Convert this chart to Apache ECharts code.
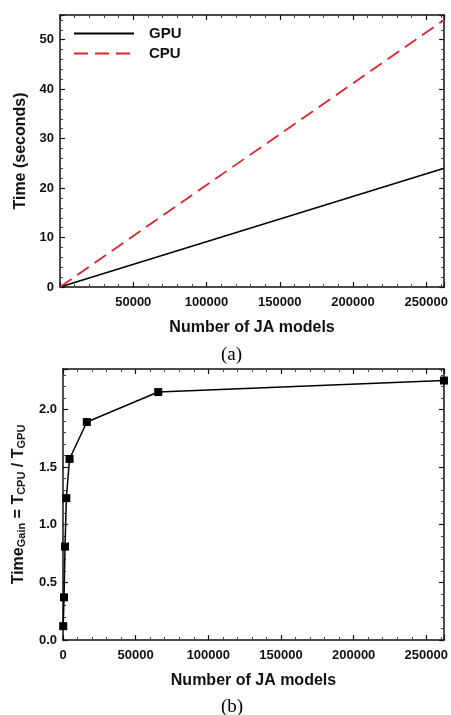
<!DOCTYPE html>
<html>
<head>
<meta charset="utf-8">
<script src="https://cdn.jsdelivr.net/npm/echarts@6/dist/echarts.min.js"></script>
<style>
  html, body { margin: 0; padding: 0; background: #fff; }
  #chart { width: 451px; height: 715px; }
</style>
</head>
<body>
<div id="chart"></div>
<script>
// (a) run time vs number of JA models
var modelsA = [0, 262144];
var gpuTime = [0, 24];
var cpuTime = [0, 54];

// (b) time gain = T_CPU / T_GPU
var modelsB = [150, 700, 1400, 2300, 4500, 16400, 65536, 262144];
var timeGain = [0.12, 0.37, 0.81, 1.23, 1.57, 1.89, 2.15, 2.25];

var FONT = 'Liberation Sans, Arial, sans-serif';
var axisColor = '#111';

function pairs(xs, ys){
	var out = [];
	for(var i = 0; i < xs.length; i++){
		out.push([xs[i], ys[i]]);
	}
	return out;
}

/* 带内刻度的坐标轴 */
function xAxisDef(grid, pos, showLabel, showZero){
	return {
		type: 'value', gridIndex: grid, position: pos,
		min: 0, max: 262144, interval: 50000,
		axisLine: { show: true, onZero: false, lineStyle: { color: axisColor, width: 1.5 } },
		axisTick: { show: true, inside: true, length: 5, lineStyle: { color: axisColor, width: 1.2 } },
		minorTick: { show: true, splitNumber: 5, length: 3, lineStyle: { color: '#444', width: 1 } },
		splitLine: { show: false },
		axisLabel: {
			show: showLabel, showMinLabel: showZero, showMaxLabel: false, margin: 9,
			formatter: function(v){ return String(v); },
			color: axisColor, fontFamily: FONT, fontWeight: 'bold', fontSize: 13
		},
		name: showLabel ? 'Number of JA models' : '',
		nameLocation: 'middle', nameGap: 33,
		nameTextStyle: { color: axisColor, fontFamily: FONT, fontWeight: 'bold', fontSize: 16 }
	};
}

function yAxisDef(grid, pos, showLabel, max, interval, fmt, name, gap){
	return {
		type: 'value', gridIndex: grid, position: pos,
		min: 0, max: max, interval: interval,
		axisLine: { show: true, onZero: false, lineStyle: { color: axisColor, width: 1.5 } },
		axisTick: { show: true, inside: true, length: 5, lineStyle: { color: axisColor, width: 1.2 } },
		minorTick: { show: true, splitNumber: 5, length: 3, lineStyle: { color: '#444', width: 1 } },
		splitLine: { show: false },
		axisLabel: {
			show: showLabel, showMaxLabel: false, margin: 6, formatter: fmt,
			color: axisColor, fontFamily: FONT, fontWeight: 'bold', fontSize: 13
		},
		name: name, nameLocation: 'middle', nameGap: gap,
		nameTextStyle: {
			color: axisColor, fontFamily: FONT, fontWeight: 'bold', fontSize: 16,
			rich: {
				a: { fontFamily: FONT, fontWeight: 'bold', fontSize: 16, lineHeight: 18, verticalAlign: 'bottom', color: axisColor },
				s: { fontFamily: FONT, fontWeight: 'bold', fontSize: 11, lineHeight: 7, verticalAlign: 'bottom', color: axisColor }
			}
		}
	};
}

var chart = echarts.init(document.getElementById('chart'));
var option = {
	backgroundColor: '#fff',
	animation: false,
	title: [
		{ text: '(a)', left: 216, top: 341, textStyle: { fontFamily: 'Liberation Serif, Times New Roman, serif', fontWeight: 'normal', fontSize: 19, color: '#000' } },
		{ text: '(b)', left: 216, top: 693, textStyle: { fontFamily: 'Liberation Serif, Times New Roman, serif', fontWeight: 'normal', fontSize: 19, color: '#000' } }
	],
	legend: {
		orient: 'vertical', left: 73, top: 26, padding: 0,
		itemWidth: 60, itemHeight: 14, itemGap: 5,
		data: ['GPU', 'CPU'],
		itemStyle: { opacity: 0 },
		textStyle: { fontFamily: FONT, fontWeight: 'bold', fontSize: 15, color: '#111', padding: [0, 0, 0, 10] }
	},
	grid: [
		{ left: 60, top: 15, width: 387, height: 272 },
		{ left: 63, top: 369, width: 387, height: 271 }
	],
	xAxis: [
		xAxisDef(0, 'bottom', true, false),
		xAxisDef(0, 'top', false, false),
		xAxisDef(1, 'bottom', true, true),
		xAxisDef(1, 'top', false, false)
	],
	yAxis: [
		yAxisDef(0, 'left', true, 55, 10, null, 'Time (seconds)', 31),
		yAxisDef(0, 'right', false, 55, 10, null, '', 0),
		yAxisDef(1, 'left', true, 2.35, 0.5, function(v){ return v.toFixed(1); },
			'{a|Time}{s|Gain}{a| = T}{s|CPU}{a| / T}{s|GPU}', 36),
		yAxisDef(1, 'right', false, 2.35, 0.5, null, '', 0)
	],
	series: [
		{
			name: 'GPU', type: 'line', xAxisIndex: 0, yAxisIndex: 0,
			data: pairs(modelsA, gpuTime), symbol: 'none',
			lineStyle: { color: '#000', width: 1.5 }, itemStyle: { color: '#000' }
		},
		{
			name: 'CPU', type: 'line', xAxisIndex: 0, yAxisIndex: 0,
			data: pairs(modelsA, cpuTime), symbol: 'none',
			lineStyle: { color: '#d4272e', width: 1.8, type: [14, 7] }, itemStyle: { color: '#d4272e' }
		},
		{
			name: 'Gain', type: 'line', xAxisIndex: 2, yAxisIndex: 2,
			data: pairs(modelsB, timeGain), symbol: 'rect', symbolSize: 8,
			lineStyle: { color: '#000', width: 1.5 }, itemStyle: { color: '#000' },
			clip: false
		}
	]
};
chart.setOption(option);
</script>
</body>
</html>
